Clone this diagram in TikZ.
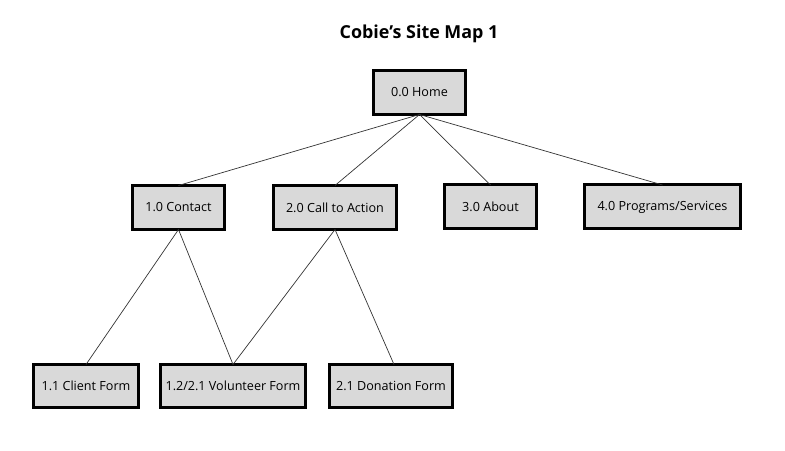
\documentclass[tikz,border=0pt]{standalone}
\usepackage{fontspec}
\setmainfont{Open Sans}
\begin{document}
\begin{tikzpicture}[x=1bp,y=-1bp,
  box/.style={draw=black, line width=3bp, fill=boxgray, inner sep=0pt, outer sep=0pt,
    minimum height=44bp, font=\fontsize{12.6bp}{15bp}\selectfont},
  link/.style={draw=linkgray, line width=0.7bp}]
\definecolor{boxgray}{HTML}{D9D9D9}
\definecolor{linkgray}{HTML}{333333}
\useasboundingbox (0,0) rectangle (785,451);
\node[font=\fontsize{17.9bp}{21bp}\selectfont\bfseries] (title) at (419,34) {Cobie’s Site Map 1};
\node[box, minimum width=92bp] (home) at (419.5,92.5) {0.0 Home};
\node[box, minimum width=92bp] (contact) at (178.5,207.5) {1.0 Contact};
\node[box, minimum width=123bp] (cta) at (335,207.5) {2.0 Call to Action};
\node[box, minimum width=92bp] (about) at (490.5,207) {3.0 About};
\node[box, minimum width=156bp] (prog) at (662.5,207) {4.0 Programs/Services};
\node[box, minimum width=105bp, minimum height=43bp] (client) at (86,386) {1.1 Client Form};
\node[box, minimum width=145bp, minimum height=43bp] (vol) at (233,386) {1.2/2.1 Volunteer Form};
\node[box, minimum width=123bp, minimum height=43bp] (don) at (391,386) {2.1 Donation Form};
\path[link] (home.south) -- (contact.north);
\path[link] (home.south) -- (cta.north);
\path[link] (home.south) -- (about.north);
\path[link] (home.south) -- (prog.north);
\path[link] (contact.south) -- (client.north);
\path[link] (contact.south) -- (vol.north);
\path[link] (cta.south) -- (vol.north);
\path[link] (cta.south) -- ([xshift=3bp]don.north);
\end{tikzpicture}
\end{document}
